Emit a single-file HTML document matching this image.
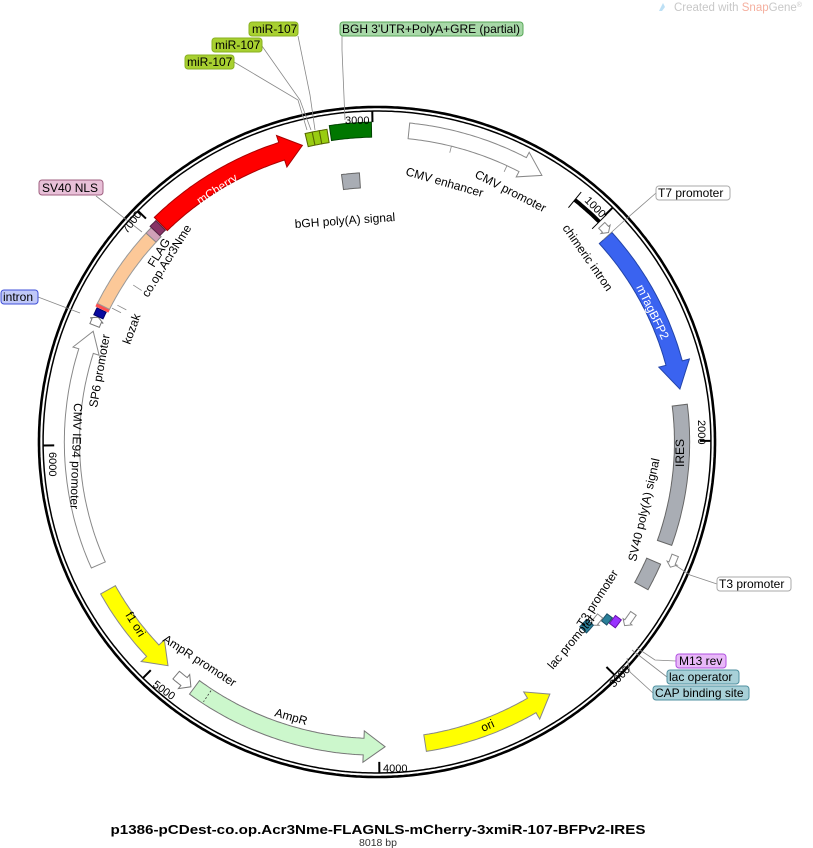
<!DOCTYPE html>
<html><head><meta charset="utf-8"><style>
html,body{margin:0;padding:0;background:#fff;}
svg{display:block;font-family:"Liberation Sans","DejaVu Sans",sans-serif;}
.l{font-size:12px;fill:#000;}
.t{font-size:11px;fill:#000;}
</style></head><body>
<svg id="s" width="813" height="848" viewBox="0 0 813 848" xmlns="http://www.w3.org/2000/svg">
<g id="shapes"></g>
<g font-size="12">
<rect x="249" y="22" width="49" height="14" rx="3" fill="#a8d030" stroke="#88b020"/><text x="252" y="33">miR-107</text>
<rect x="212" y="38" width="50" height="14" rx="3" fill="#a8d030" stroke="#88b020"/><text x="215" y="49">miR-107</text>
<rect x="185" y="55" width="49" height="14" rx="3" fill="#a8d030" stroke="#88b020"/><text x="187" y="66">miR-107</text>
<rect x="340" y="22" width="183" height="14" rx="3" fill="#a8d8a8" stroke="#58a858"/><text x="342" y="33" textLength="178">BGH 3'UTR+PolyA+GRE (partial)</text>
<rect x="39" y="180" width="64" height="15" rx="3" fill="#e8c0d8" stroke="#a06080"/><text x="42" y="192">SV40 NLS</text>
<rect x="1" y="290" width="37" height="14" rx="3" fill="#c0c8f8" stroke="#4050d8"/><text x="3" y="301">intron</text>
<rect x="656" y="186" width="74" height="14" rx="3" fill="#fff" stroke="#aaa"/><text x="658" y="197">T7 promoter</text>
<rect x="717" y="577" width="74" height="14" rx="3" fill="#fff" stroke="#aaa"/><text x="719" y="588">T3 promoter</text>
<rect x="676" y="654" width="50" height="14" rx="3" fill="#e8b8f8" stroke="#b050e0"/><text x="679" y="665">M13 rev</text>
<rect x="667" y="670" width="72" height="14" rx="3" fill="#a8d0d8" stroke="#5090a0"/><text x="669" y="681">lac operator</text>
<rect x="653" y="686" width="96" height="14" rx="3" fill="#a8d0d8" stroke="#5090a0"/><text x="655" y="697">CAP binding site</text>
</g>
<text class="l" style="fill:#fff" transform="translate(200,205) rotate(-33)">mCherry</text>
<text class="l" style="fill:#fff" transform="translate(636,287) rotate(64)">mTagBFP2</text>
<text class="l" transform="translate(684,467) rotate(-90)">IRES</text>
<text class="l" transform="translate(636,562) rotate(-77)">SV40 poly(A) signal</text>
<text class="l" transform="translate(583,628) rotate(-57)">T3 promoter</text>
<text class="l" transform="translate(553,670) rotate(-50)">lac promoter</text>
<text class="l" transform="translate(483,732) rotate(-24)">ori</text>
<text class="l" transform="translate(274,716) rotate(16)">AmpR</text>
<text class="l" transform="translate(162,641) rotate(33)">AmpR promoter</text>
<text class="l" transform="translate(125,615) rotate(58)">f1 ori</text>
<text class="l" transform="translate(74,403) rotate(92)">CMV IE94 promoter</text>
<text class="l" transform="translate(97,408) rotate(-80)">SP6 promoter</text>
<text class="l" transform="translate(130,345) rotate(-70)">kozak</text>
<text class="l" transform="translate(148,298) rotate(-58)">co.op.Acr3Nme</text>
<text class="l" transform="translate(154,268) rotate(-58)">FLAG</text>
<text class="l" transform="translate(405,175) rotate(16)">CMV enhancer</text>
<text class="l" transform="translate(474,177) rotate(27)">CMV promoter</text>
<text class="l" transform="translate(562,228) rotate(55)">chimeric intron</text>
<text class="l" transform="translate(295,228) rotate(-4)">bGH poly(A) signal</text>
<text class="t" x="345" y="124">3000</text>
<text class="t" transform="translate(584,201) rotate(45)">1000</text>
<text class="t" transform="translate(698,420) rotate(90)">2000</text>
<text class="t" transform="translate(614,688) rotate(-47)">3000</text>
<text class="t" x="383" y="772">4000</text>
<text class="t" transform="translate(152,686) rotate(36)">5000</text>
<text class="t" transform="translate(49,452) rotate(90)">6000</text>
<text class="t" transform="translate(127,234) rotate(-52)">7000</text>
<text x="378" y="834" text-anchor="middle" font-weight="bold" font-size="13" textLength="535" lengthAdjust="spacingAndGlyphs">p1386-pCDest-co.op.Acr3Nme-FLAGNLS-mCherry-3xmiR-107-BFPv2-IRES</text>
<text x="378" y="846" text-anchor="middle" font-size="10.5" fill="#333">8018 bp</text>
<path d="M659 11 L663 3 L665 7 L662 11 Z" fill="#bde0f5"/>
<text x="674" y="11" font-size="11.5" fill="#c8c8c8">Created with <tspan fill="#f5b0a0">Snap</tspan>Gene<tspan font-size="7" dy="-4">®</tspan></text>
</svg>
<script>
(function(){
var CX=377,CY=442,RX=338,RY=335,NS="http://www.w3.org/2000/svg";
var g=document.getElementById("shapes");
function P(a,r){var t=a*Math.PI/180;return [CX+RX*r*Math.sin(t),CY-RY*r*Math.cos(t)];}
function arc(a1,a2,r){var n=Math.max(2,Math.ceil(Math.abs(a2-a1)*2)),o=[];for(var i=0;i<=n;i++){o.push(P(a1+(a2-a1)*i/n,r));}return o;}
function el(tag,at){var e=document.createElementNS(NS,tag);for(var k in at)e.setAttribute(k,at[k]);g.appendChild(e);return e;}
function ps(pts){return pts.map(function(p){return p[0].toFixed(1)+","+p[1].toFixed(1)}).join(" ");}
function poly(pts,fill,stroke,sw){return el("polygon",{points:ps(pts),fill:fill,stroke:stroke,"stroke-width":sw||1});}
function pl(pts,stroke,sw){return el("polyline",{points:ps(pts),fill:"none",stroke:stroke,"stroke-width":sw||1});}
function block(a1,a2,r1,r2,fill,stroke){poly(arc(a1,a2,r2).concat(arc(a2,a1,r1)),fill,stroke);}
function arrow(a1,a2,r1,r2,fill,stroke,h,w){w=w==null?0.022:w;var s=a2>a1?1:-1,aH=a2-s*h;
 var pts=arc(a1,aH,r2);pts.push(P(aH,r2+w));pts.push(P(a2,(r1+r2)/2));pts.push(P(aH,r1-w));pts=pts.concat(arc(aH,a1,r1));poly(pts,fill,stroke);}
function line(a,r1,r2,c,sw){var p=P(a,r1),q=P(a,r2);el("line",{x1:p[0],y1:p[1],x2:q[0],y2:q[1],stroke:c,"stroke-width":sw||1});}
function lineXY(pts,c){pl(pts,c||"#888",0.8);}
pl(arc(0,360,1),"#000",2.6);
pl(arc(0,360,0.988),"#000",1.5);
for(var k=1;k<=8;k++){var a=k*1000*360/8018;line(a,0.988,0.955,"#000",2);}
arrow(5.8,31.5,0.91,0.957,"#fff","#888",4,0.018);
line(14,0.91,0.89,"#888",0.8);line(25,0.91,0.89,"#888",0.8);
pl(arc(39,45,0.93),"#000",4);line(39,0.9,0.96,"#000",1);line(45,0.9,0.96,"#000",1);
arrow(45.8,47.6,0.915,0.94,"#fff","#888",0.8,0.006);
arrow(48,80,0.885,0.935,"#3a63f0","#2244aa",5);
block(83,109.5,0.88,0.925,"#a9adb4","#666");
arrow(111,113.3,0.935,0.955,"#fff","#888",0.8,0.006);
block(113.5,118.8,0.87,0.915,"#a9adb4","#666");
arrow(124,126.8,0.905,0.925,"#fff","#888",0.9,0.006);
block(126.3,128.2,0.875,0.897,"#9933ff","#6610aa");
block(127,128.8,0.852,0.872,"#2a7f99","#1a4f66");
arrow(128.2,130.6,0.83,0.85,"#fff","#888",0.8,0.005);
block(130.5,132.6,0.815,0.842,"#2a7f99","#1a4f66");
arrow(171,145.8,0.885,0.935,"#ffff00","#888",4);
arrow(216.4,178.5,0.885,0.935,"#ccf7cc","#777",4);
pl([P(213.5,0.89),P(213.5,0.93)],"#333",0.8).setAttribute("stroke-dasharray","2,2");
arrow(220.5,217,0.9,0.93,"#fff","#777",1.6,0.012);
arrow(241,222.8,0.885,0.935,"#ffff00","#888",4);
arrow(246,291.5,0.88,0.925,"#fff","#888",4,0.018);
arrow(292.6,294.3,0.89,0.92,"#fff","#777",0.7,0.006);
block(294.4,295.8,0.89,0.92,"#0a0aa0","#000066");
block(296,296.6,0.885,0.925,"#ff5050","#ff5050");
block(296.6,312.4,0.885,0.925,"#fcc898","#999");
block(312.4,313.8,0.885,0.925,"#d0a0b8","#888");
block(313.8,315.3,0.89,0.93,"#883366","#552244");
arrow(315.5,346,0.885,0.94,"#ff0000","#aa0000",4);
block(347,348.3,0.905,0.945,"#99cc11","#556600");
block(348.3,349.6,0.905,0.945,"#99cc11","#556600");
block(349.6,351,0.905,0.945,"#99cc11","#556600");
block(351.5,359,0.91,0.955,"#007700","#004400");
block(352.5,356.3,0.76,0.805,"#a9adb4","#666");
line(298,0.87,0.84,"#888",0.8);line(303,0.86,0.83,"#888",0.8);
line(297,0.88,0.85,"#888",0.8);
lineXY([[298,36],[310,95],[315,130]]);
lineXY([[262,46],[300,100],[311,130]]);
lineXY([[234,62],[298,100],[307,130]]);
lineXY([[342,36],[342,50],[345,120]]);
lineXY([[96,196],[142,232]]);
lineXY([[38,297],[80,313]]);
lineXY([[656,193],[625,220],[603,240]]);
lineXY([[717,584],[690,575],[675,565]]);
lineXY([[676,661],[655,660],[637,648]]);
lineXY([[667,677],[632,650]]);
lineXY([[653,693],[630,672],[627,658]]);
})();
</script>
</body></html>
